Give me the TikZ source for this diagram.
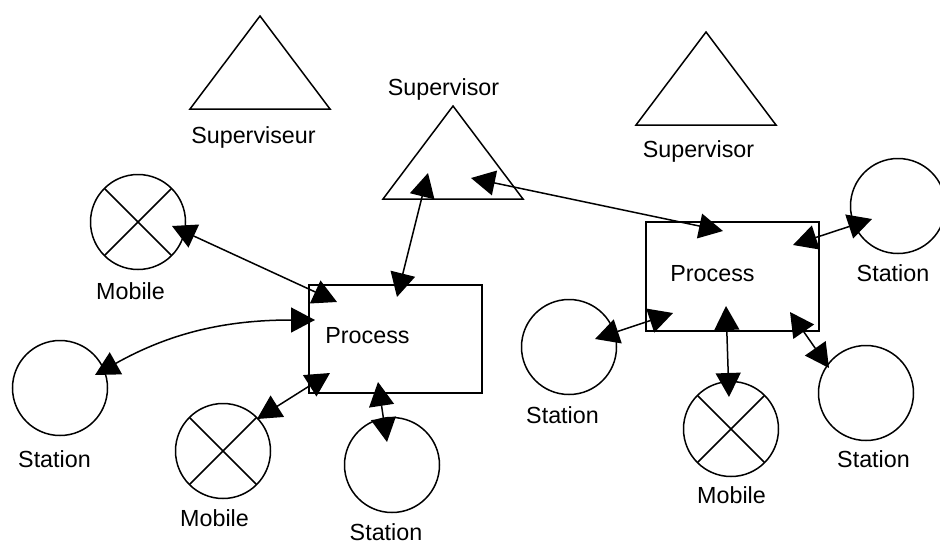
\documentclass[tikz,border=0pt]{standalone}
\usepackage{fontspec}
\setmainfont{Liberation Sans}
\usetikzlibrary{arrows.meta}

\begin{document}
\begin{tikzpicture}[x=1pt,y=-1pt,
  line width=1.5pt,
  lbl/.style={font=\fontsize{23.3}{28}\selectfont, inner sep=0pt, anchor=base},
  station/.style={draw, circle, minimum size=95pt, inner sep=0pt},
  mobile/.style={station, path picture={
      \draw (path picture bounding box.north west) -- (path picture bounding box.south east);
      \draw (path picture bounding box.north east) -- (path picture bounding box.south west);}},
  proc/.style={draw, rectangle, minimum width=173pt, minimum height=108pt, inner sep=0pt},
  tri/.style={draw, line join=miter},
  link/.style={{Triangle[length=24pt,width=25pt]}-{Triangle[length=24pt,width=25pt]}}]

\useasboundingbox (0,0) rectangle (940,541);

% supervisors
\draw[tri] (260,16) coordinate (supA) -- (330,109) -- (190,109) -- cycle;
\node[lbl] (supAl) at (253.5,143) {Superviseur};
\draw[tri] (453,106) coordinate (supB) -- (523,199) -- (383,199) -- cycle;
\node[lbl] (supBl) at (443.5,95) {Supervisor};
\draw[tri] (706,32) coordinate (supC) -- (776,125) -- (636,125) -- cycle;
\node[lbl] (supCl) at (698.5,157) {Supervisor};

% left group
\node[proc] (procL) at (395.5,339) {};
\node[lbl] (procLl) at (367.5,343) {Process};
\node[mobile] (mobL1) at (138,222) {};
\node[lbl] (mobL1l) at (130.5,299) {Mobile};
\node[station] (staL1) at (60,388) {};
\node[lbl] (staL1l) at (54.5,467) {Station};
\node[mobile] (mobL2) at (223,451) {};
\node[lbl] (mobL2l) at (214.5,526) {Mobile};
\node[station] (staL2) at (392,465) {};
\node[lbl] (staL2l) at (386,540) {Station};

% right group
\node[proc, minimum height=109pt] (procR) at (732.5,276.5) {};
\node[lbl] (procRl) at (712.5,281) {Process};
\node[station] (staR1) at (898,206) {};
\node[lbl] (staR1l) at (893,281) {Station};
\node[station] (staR2) at (569,347) {};
\node[lbl] (staR2l) at (562.5,423) {Station};
\node[mobile] (mobR) at (731,429) {};
\node[lbl] (mobRl) at (731.5,503) {Mobile};
\node[station] (staR3) at (866,393) {};
\node[lbl] (staR3l) at (873.5,467) {Station};

% connector ends
\coordinate (a1) at (172,226);  \coordinate (a2) at (337,302);
\coordinate (b1) at (428,173);  \coordinate (b2) at (397,297);
\coordinate (c1) at (471,178);  \coordinate (c2) at (723,231);
\coordinate (d1) at (95,375);   \coordinate (d2) at (315,320);
\coordinate (e1) at (257,419);  \coordinate (e2) at (330,373);
\coordinate (f1) at (378,382);  \coordinate (f2) at (387,442);
\coordinate (g1) at (793,245);  \coordinate (g2) at (872,219);
\coordinate (h1) at (595,339);  \coordinate (h2) at (673,313);
\coordinate (i1) at (726,306);  \coordinate (i2) at (729,397);
\coordinate (j1) at (790,312);  \coordinate (j2) at (829,368);

% connectors
\draw[link] (a1) -- (a2);
\draw[link] (b1) -- (b2);
\draw[link] (c1) -- (c2);
\draw[link] (d1) .. controls (170,333) and (225,320) .. (d2);
\draw[link] (e1) -- (e2);
\draw[link] (f1) -- (f2);
\draw[link] (g1) -- (g2);
\draw[link] (h1) -- (h2);
\draw[link] (i1) -- (i2);
\draw[link] (j1) -- (j2);
\end{tikzpicture}
\end{document}
